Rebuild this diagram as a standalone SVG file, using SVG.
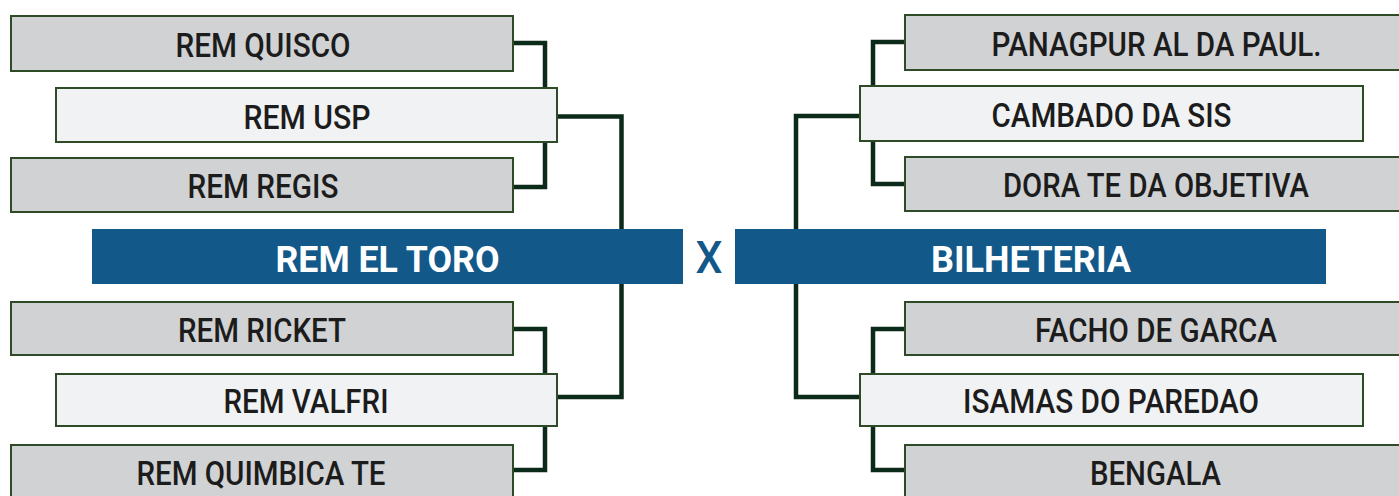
<svg xmlns="http://www.w3.org/2000/svg" width="1399" height="496" viewBox="0 0 1399 496">
<style>
.box{stroke:#2f4a26;stroke-width:2}
.g{fill:#d1d2d4}
.l{fill:#f1f2f4}
.t{font-family:Roboto,"Liberation Sans",sans-serif;font-weight:500;font-size:33px;fill:#1c1c1c;text-anchor:middle}
.ttl{font-family:Roboto,"Liberation Sans",sans-serif;font-weight:700;font-size:37px;fill:#ffffff;text-anchor:middle}
.blue{fill:#12598a}
.c{fill:none;stroke:#0c2a1a;stroke-width:4.5;stroke-linejoin:miter}
</style>
<rect width="1399" height="496" fill="#ffffff"/>
<g id="connectors">
<path class="c" d="M514 43 H545 V187 H514"/>
<path class="c" d="M558 116.5 H621.5 V397 H558"/>
<path class="c" d="M514 329 H545 V470 H514"/>
<path class="c" d="M904 42 H873 V184 H904"/>
<path class="c" d="M859 116 H796 V397 H859"/>
<path class="c" d="M904 329 H873 V470 H904"/>
</g>
<g id="rem-quisco"><rect class="box g" x="11" y="16" width="502" height="55"/><text class="t" x="263" y="57" textLength="175" lengthAdjust="spacingAndGlyphs">REM QUISCO</text></g>
<g id="rem-usp"><rect class="box l" x="56" y="88" width="501" height="54"/><text class="t" x="307" y="128.5" textLength="127" lengthAdjust="spacingAndGlyphs">REM USP</text></g>
<g id="rem-regis"><rect class="box g" x="11" y="158" width="502" height="54"/><text class="t" x="263" y="198" textLength="151" lengthAdjust="spacingAndGlyphs">REM REGIS</text></g>
<g id="rem-ricket"><rect class="box g" x="11" y="302" width="502" height="53"/><text class="t" x="262" y="342" textLength="168" lengthAdjust="spacingAndGlyphs">REM RICKET</text></g>
<g id="rem-valfri"><rect class="box l" x="56" y="374" width="501" height="52"/><text class="t" x="306" y="413" textLength="165" lengthAdjust="spacingAndGlyphs">REM VALFRI</text></g>
<g id="rem-quimbica-te"><rect class="box g" x="11" y="445" width="502" height="56"/><text class="t" x="261" y="485" textLength="249" lengthAdjust="spacingAndGlyphs">REM QUIMBICA TE</text></g>
<g id="rem-el-toro"><rect class="blue" x="92" y="229" width="591" height="55"/><text class="ttl" x="387.5" y="271.5" textLength="224" lengthAdjust="spacingAndGlyphs">REM EL TORO</text></g>
<g id="versus"><text x="709" y="273" font-family="Roboto,'Liberation Sans',sans-serif" font-weight="500" font-size="44" fill="#12598a" text-anchor="middle" textLength="27" lengthAdjust="spacingAndGlyphs">X</text></g>
<g id="bilheteria"><rect class="blue" x="735" y="229" width="591" height="55"/><text class="ttl" x="1031" y="271.5" textLength="200" lengthAdjust="spacingAndGlyphs">BILHETERIA</text></g>
<g id="panagpur"><rect class="box g" x="905" y="15" width="502" height="55"/><text class="t" x="1156.5" y="56" textLength="330" lengthAdjust="spacingAndGlyphs">PANAGPUR AL DA PAUL.</text></g>
<g id="cambado"><rect class="box l" x="860" y="86" width="503" height="55"/><text class="t" x="1111.5" y="127" textLength="240" lengthAdjust="spacingAndGlyphs">CAMBADO DA SIS</text></g>
<g id="dora"><rect class="box g" x="905" y="157" width="502" height="54"/><text class="t" x="1156" y="197" textLength="306" lengthAdjust="spacingAndGlyphs">DORA TE DA OBJETIVA</text></g>
<g id="facho"><rect class="box g" x="905" y="302" width="502" height="53"/><text class="t" x="1156" y="342" textLength="242" lengthAdjust="spacingAndGlyphs">FACHO DE GARCA</text></g>
<g id="isamas"><rect class="box l" x="860" y="374" width="503" height="52"/><text class="t" x="1111" y="413" textLength="296" lengthAdjust="spacingAndGlyphs">ISAMAS DO PAREDAO</text></g>
<g id="bengala"><rect class="box g" x="905" y="445" width="502" height="56"/><text class="t" x="1155.5" y="485" textLength="131" lengthAdjust="spacingAndGlyphs">BENGALA</text></g>
</svg>
